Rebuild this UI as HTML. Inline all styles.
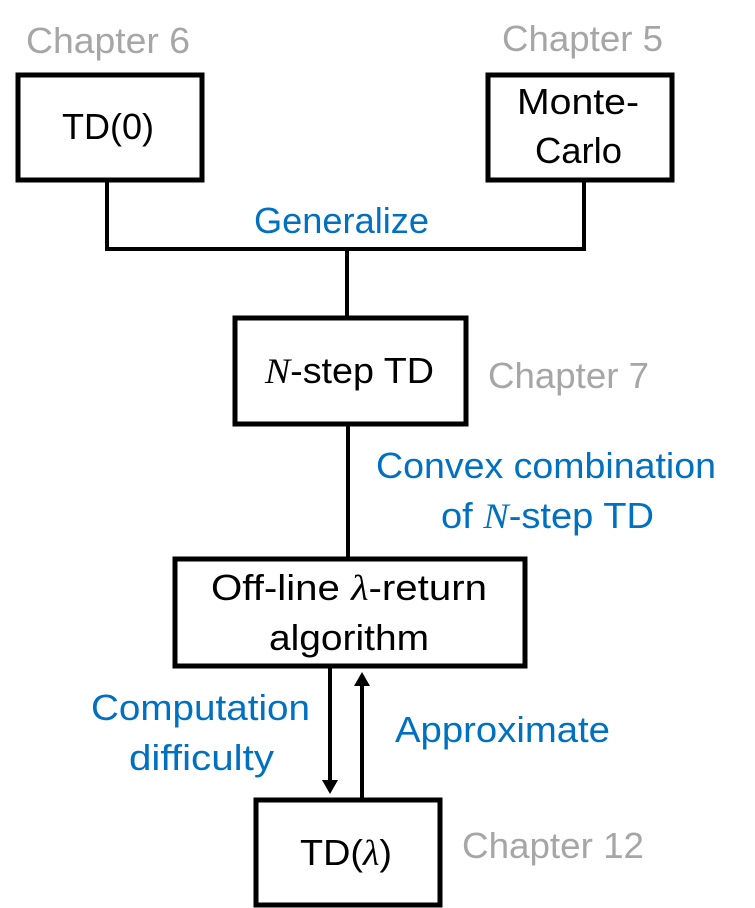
<!DOCTYPE html>
<html><head><meta charset="utf-8"><style>html,body{margin:0;padding:0;background:#fff}svg{display:block}</style></head>
<body>
<svg width="755" height="908" viewBox="0 0 755 908" xmlns="http://www.w3.org/2000/svg" font-family="Liberation Sans, sans-serif" font-size="36">
<defs>
<marker id="ah" markerWidth="3.5" markerHeight="4" refX="2.5" refY="2" orient="auto" markerUnits="strokeWidth"><path d="M0,0 L3.5,2 L0,4 z" fill="#000"/></marker>
</defs>
<g fill="none" stroke="#000" stroke-width="5">
<rect x="18" y="75" width="184" height="105"/>
<rect x="488" y="75" width="184" height="105"/>
<rect x="235" y="318" width="231" height="106"/>
<rect x="175" y="559" width="350" height="107"/>
<rect x="256" y="800" width="184" height="105"/>
</g>
<g fill="none" stroke="#000" stroke-width="4">
<polyline points="107,180 107,249 584,249 584,180"/>
<line x1="347" y1="249" x2="347" y2="318"/>
<line x1="348" y1="424" x2="348" y2="559"/>
<line x1="330" y1="666" x2="330" y2="790" marker-end="url(#ah)"/>
<line x1="362" y1="800" x2="362" y2="676" marker-end="url(#ah)"/>
</g>
<g fill="#a6a6a6">
<text x="26" y="53" textLength="164" lengthAdjust="spacingAndGlyphs">Chapter 6</text>
<text x="502" y="51" textLength="161" lengthAdjust="spacingAndGlyphs">Chapter 5</text>
<text x="488" y="388" textLength="161" lengthAdjust="spacingAndGlyphs">Chapter 7</text>
<text x="462" y="858" textLength="182" lengthAdjust="spacingAndGlyphs">Chapter 12</text>
</g>
<g fill="#000">
<text x="62" y="139" textLength="92" lengthAdjust="spacingAndGlyphs">TD(0)</text>
<text x="517" y="114" textLength="122" lengthAdjust="spacingAndGlyphs">Monte-</text>
<text x="535" y="163" textLength="87" lengthAdjust="spacingAndGlyphs">Carlo</text>
<text x="265" y="383" textLength="169" lengthAdjust="spacingAndGlyphs"><tspan font-family="Liberation Serif, serif" font-style="italic">N</tspan>-step TD</text>
<text x="211" y="600" textLength="276" lengthAdjust="spacingAndGlyphs">Off-line <tspan font-family="Liberation Serif, serif" font-style="italic">λ</tspan>-return</text>
<text x="269" y="650" textLength="160" lengthAdjust="spacingAndGlyphs">algorithm</text>
<text x="300" y="865" textLength="92" lengthAdjust="spacingAndGlyphs">TD(<tspan font-family="Liberation Serif, serif" font-style="italic">λ</tspan>)</text>
</g>
<g fill="#0070c0">
<text x="254" y="233" textLength="175" lengthAdjust="spacingAndGlyphs">Generalize</text>
<text x="376" y="478" textLength="340" lengthAdjust="spacingAndGlyphs">Convex combination</text>
<text x="441" y="528" textLength="213" lengthAdjust="spacingAndGlyphs">of <tspan font-family="Liberation Serif, serif" font-style="italic">N</tspan>-step TD</text>
<text x="91" y="720" textLength="219" lengthAdjust="spacingAndGlyphs">Computation</text>
<text x="129" y="770" textLength="145" lengthAdjust="spacingAndGlyphs">difficulty</text>
<text x="395" y="742" textLength="215" lengthAdjust="spacingAndGlyphs">Approximate</text>
</g>
</svg>
</body></html>
